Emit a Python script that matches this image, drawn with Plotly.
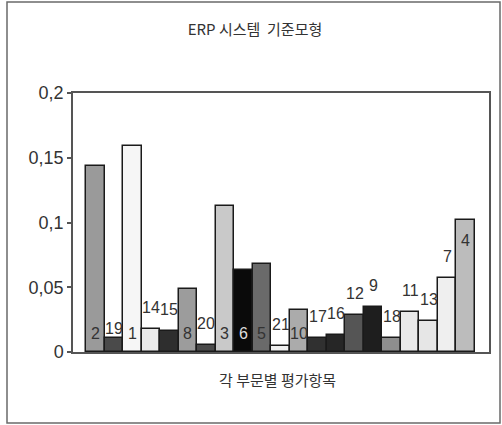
import plotly.graph_objects as go

# ---- data ----
item_labels = ["2", "19", "1", "14", "15", "8", "20", "3", "6", "5", "21",
               "10", "17", "16", "12", "9", "18", "11", "13", "7", "4"]
item_values = [0.144, 0.011, 0.159, 0.018, 0.0165, 0.0487, 0.0054, 0.113,
               0.063, 0.068, 0.0045, 0.0324, 0.0106, 0.0134, 0.0288, 0.035,
               0.0108, 0.0311, 0.0242, 0.0569, 0.102]
y_tick_values = [0, 0.05, 0.1, 0.15, 0.2]
y_tick_text = ["0", "0,05", "0,1", "0,15", "0,2"]
title_text = "ERP 시스템  기준모형"
x_title_text = "각 부문별 평가항목"

# ---- style ----
bar_colors = ["#9a9a9a", "#4a4a4a", "#f6f6f6", "#e9e9e9", "#2e2e2e", "#9c9c9c",
              "#4a4a4a", "#c9c9c9", "#0a0a0a", "#6a6a6a", "#f0f0f0", "#ababab",
              "#303030", "#262626", "#555555", "#1e1e1e", "#8e8e8e", "#e9e9e9",
              "#e6e6e6", "#efefef", "#bcbcbc"]
# label placement: "base" = inside near base, "above" = above bar end,
# "touch" = just above bar end, "intop" = inside near top
label_place = ["base", "touch", "base", "above", "above", "base", "above",
               "base", "base", "base", "above", "base", "above", "above",
               "above", "above", "above", "above", "above", "above", "intop"]
label_colors = ["#333333"] * len(item_labels)
label_colors[8] = "#dddddd"

NUM_FONT = "Liberation Sans, Arial, sans-serif"
KR_FONT = "Noto Sans CJK KR, Noto Sans, sans-serif"

W, H = 502, 425
L, R, T, B = 73, 13, 93, 73
PW, PH = W - L - R, H - T - B

xs = list(range(len(item_values)))

fig = go.Figure()
fig.add_trace(go.Bar(
    x=xs, y=item_values, width=1.0,
    marker=dict(color=bar_colors, line=dict(color="#1a1a1a", width=1.5)),
    hoverinfo="skip", showlegend=False,
))

annotations = []
for i, (lab, v, place) in enumerate(zip(item_labels, item_values, label_place)):
    if place == "base":
        y, ya, ys = 0, "bottom", 8
    elif place == "above":
        y, ya, ys = v, "bottom", 11
    elif place == "touch":
        y, ya, ys = v, "bottom", -1
    else:
        y, ya, ys = v, "top", -10
    annotations.append(dict(
        x=i, y=y, xref="x", yref="y", text=lab, showarrow=False,
        yanchor=ya, yshift=ys, xanchor="center",
        font=dict(family=NUM_FONT, size=16, color=label_colors[i]),
    ))

annotations.append(dict(
    x=(277 - L) / PW, y=(H - B - 379) / PH, xref="paper", yref="paper",
    text=x_title_text, showarrow=False, xanchor="center", yanchor="middle",
    font=dict(family=KR_FONT, size=15, color="#333333"),
))

# outer frame
def px_x(px):
    return (px - L) / PW

def px_y(py):
    return (H - B - py) / PH

fig.add_shape(type="rect", xref="paper", yref="paper",
              x0=px_x(7), x1=px_x(500), y0=px_y(423), y1=px_y(2),
              line=dict(color="#6a6a6a", width=1.5), fillcolor="rgba(0,0,0,0)",
              layer="below")

fig.update_layout(
    width=W, height=H,
    margin=dict(l=L, r=R, t=T, b=B, pad=0),
    paper_bgcolor="white", plot_bgcolor="white",
    title=dict(text=title_text, x=0.508, xanchor="center", y=1 - 30 / H,
               yanchor="middle",
               font=dict(family=KR_FONT, size=15, color="#333333")),
    annotations=annotations,
    bargap=0,
)
fig.update_xaxes(range=[-1.202, 21.256], showticklabels=False, ticks="",
                 showgrid=False, zeroline=False, showline=True, mirror=True,
                 linecolor="#555555", linewidth=1.5)
fig.update_yaxes(range=[0, 0.2], tickvals=y_tick_values, ticktext=y_tick_text,
                 ticks="outside", ticklen=4, tickcolor="#555555", tickwidth=1.5,
                 showgrid=False, zeroline=False, showline=True, mirror=True,
                 linecolor="#555555", linewidth=1.5,
                 tickfont=dict(family=NUM_FONT, size=18, color="#333333"))

fig.write_html("out.html")
